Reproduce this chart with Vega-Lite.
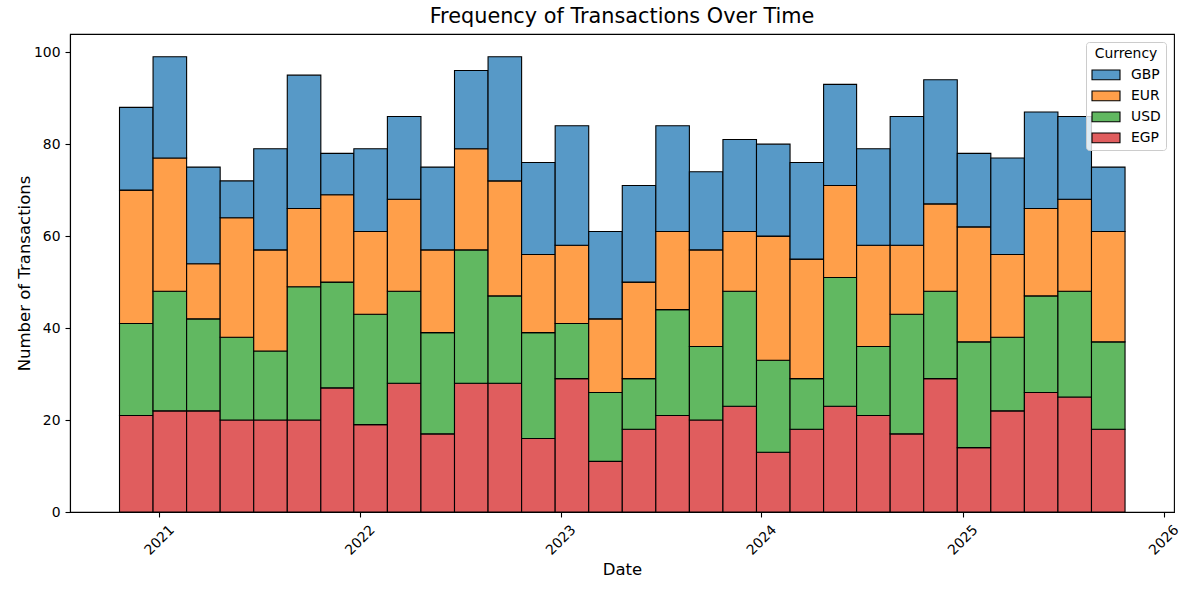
{
  "$schema": "https://vega.github.io/schema/vega-lite/v6.json",
  "width": 1104,
  "height": 478,
  "autosize": {"type": "none"},
  "padding": {"left": 70, "top": 34, "right": 14, "bottom": 78},
  "background": "white",
  "title": {"text": "Frequency of Transactions Over Time", "font": "DejaVu Sans", "fontSize": 20.8, "fontWeight": "normal", "color": "black", "anchor": "middle", "baseline": "alphabetic", "offset": 12, "dy": 22, "frame": "group"},
  "config": {
    "view": {"stroke": "black", "strokeWidth": 1.1},
    "axis": {"labelFont": "DejaVu Sans", "labelFontSize": 13.9, "labelColor": "black", "titleFont": "DejaVu Sans", "titleFontSize": 16.5, "titleFontWeight": "normal", "titleColor": "black", "domainColor": "black", "domainWidth": 1.1, "tickColor": "black", "tickWidth": 1.1, "tickSize": 5, "labelPadding": 5, "grid": false}
  },
  "data": {"values": [
    {"start":"2020-10-21","end":"2020-12-21","currency":"EGP","count":21},
    {"start":"2020-10-21","end":"2020-12-21","currency":"USD","count":20},
    {"start":"2020-10-21","end":"2020-12-21","currency":"EUR","count":29},
    {"start":"2020-10-21","end":"2020-12-21","currency":"GBP","count":18},
    {"start":"2020-12-21","end":"2021-02-20","currency":"EGP","count":22},
    {"start":"2020-12-21","end":"2021-02-20","currency":"USD","count":26},
    {"start":"2020-12-21","end":"2021-02-20","currency":"EUR","count":29},
    {"start":"2020-12-21","end":"2021-02-20","currency":"GBP","count":22},
    {"start":"2021-02-20","end":"2021-04-22","currency":"EGP","count":22},
    {"start":"2021-02-20","end":"2021-04-22","currency":"USD","count":20},
    {"start":"2021-02-20","end":"2021-04-22","currency":"EUR","count":12},
    {"start":"2021-02-20","end":"2021-04-22","currency":"GBP","count":21},
    {"start":"2021-04-22","end":"2021-06-22","currency":"EGP","count":20},
    {"start":"2021-04-22","end":"2021-06-22","currency":"USD","count":18},
    {"start":"2021-04-22","end":"2021-06-22","currency":"EUR","count":26},
    {"start":"2021-04-22","end":"2021-06-22","currency":"GBP","count":8},
    {"start":"2021-06-22","end":"2021-08-22","currency":"EGP","count":20},
    {"start":"2021-06-22","end":"2021-08-22","currency":"USD","count":15},
    {"start":"2021-06-22","end":"2021-08-22","currency":"EUR","count":22},
    {"start":"2021-06-22","end":"2021-08-22","currency":"GBP","count":22},
    {"start":"2021-08-22","end":"2021-10-22","currency":"EGP","count":20},
    {"start":"2021-08-22","end":"2021-10-22","currency":"USD","count":29},
    {"start":"2021-08-22","end":"2021-10-22","currency":"EUR","count":17},
    {"start":"2021-08-22","end":"2021-10-22","currency":"GBP","count":29},
    {"start":"2021-10-22","end":"2021-12-21","currency":"EGP","count":27},
    {"start":"2021-10-22","end":"2021-12-21","currency":"USD","count":23},
    {"start":"2021-10-22","end":"2021-12-21","currency":"EUR","count":19},
    {"start":"2021-10-22","end":"2021-12-21","currency":"GBP","count":9},
    {"start":"2021-12-21","end":"2022-02-20","currency":"EGP","count":19},
    {"start":"2021-12-21","end":"2022-02-20","currency":"USD","count":24},
    {"start":"2021-12-21","end":"2022-02-20","currency":"EUR","count":18},
    {"start":"2021-12-21","end":"2022-02-20","currency":"GBP","count":18},
    {"start":"2022-02-20","end":"2022-04-22","currency":"EGP","count":28},
    {"start":"2022-02-20","end":"2022-04-22","currency":"USD","count":20},
    {"start":"2022-02-20","end":"2022-04-22","currency":"EUR","count":20},
    {"start":"2022-02-20","end":"2022-04-22","currency":"GBP","count":18},
    {"start":"2022-04-22","end":"2022-06-22","currency":"EGP","count":17},
    {"start":"2022-04-22","end":"2022-06-22","currency":"USD","count":22},
    {"start":"2022-04-22","end":"2022-06-22","currency":"EUR","count":18},
    {"start":"2022-04-22","end":"2022-06-22","currency":"GBP","count":18},
    {"start":"2022-06-22","end":"2022-08-22","currency":"EGP","count":28},
    {"start":"2022-06-22","end":"2022-08-22","currency":"USD","count":29},
    {"start":"2022-06-22","end":"2022-08-22","currency":"EUR","count":22},
    {"start":"2022-06-22","end":"2022-08-22","currency":"GBP","count":17},
    {"start":"2022-08-22","end":"2022-10-22","currency":"EGP","count":28},
    {"start":"2022-08-22","end":"2022-10-22","currency":"USD","count":19},
    {"start":"2022-08-22","end":"2022-10-22","currency":"EUR","count":25},
    {"start":"2022-08-22","end":"2022-10-22","currency":"GBP","count":27},
    {"start":"2022-10-22","end":"2022-12-22","currency":"EGP","count":16},
    {"start":"2022-10-22","end":"2022-12-22","currency":"USD","count":23},
    {"start":"2022-10-22","end":"2022-12-22","currency":"EUR","count":17},
    {"start":"2022-10-22","end":"2022-12-22","currency":"GBP","count":20},
    {"start":"2022-12-22","end":"2023-02-21","currency":"EGP","count":29},
    {"start":"2022-12-22","end":"2023-02-21","currency":"USD","count":12},
    {"start":"2022-12-22","end":"2023-02-21","currency":"EUR","count":17},
    {"start":"2022-12-22","end":"2023-02-21","currency":"GBP","count":26},
    {"start":"2023-02-21","end":"2023-04-23","currency":"EGP","count":11},
    {"start":"2023-02-21","end":"2023-04-23","currency":"USD","count":15},
    {"start":"2023-02-21","end":"2023-04-23","currency":"EUR","count":16},
    {"start":"2023-02-21","end":"2023-04-23","currency":"GBP","count":19},
    {"start":"2023-04-23","end":"2023-06-23","currency":"EGP","count":18},
    {"start":"2023-04-23","end":"2023-06-23","currency":"USD","count":11},
    {"start":"2023-04-23","end":"2023-06-23","currency":"EUR","count":21},
    {"start":"2023-04-23","end":"2023-06-23","currency":"GBP","count":21},
    {"start":"2023-06-23","end":"2023-08-23","currency":"EGP","count":21},
    {"start":"2023-06-23","end":"2023-08-23","currency":"USD","count":23},
    {"start":"2023-06-23","end":"2023-08-23","currency":"EUR","count":17},
    {"start":"2023-06-23","end":"2023-08-23","currency":"GBP","count":23},
    {"start":"2023-08-23","end":"2023-10-23","currency":"EGP","count":20},
    {"start":"2023-08-23","end":"2023-10-23","currency":"USD","count":16},
    {"start":"2023-08-23","end":"2023-10-23","currency":"EUR","count":21},
    {"start":"2023-08-23","end":"2023-10-23","currency":"GBP","count":17},
    {"start":"2023-10-23","end":"2023-12-23","currency":"EGP","count":23},
    {"start":"2023-10-23","end":"2023-12-23","currency":"USD","count":25},
    {"start":"2023-10-23","end":"2023-12-23","currency":"EUR","count":13},
    {"start":"2023-10-23","end":"2023-12-23","currency":"GBP","count":20},
    {"start":"2023-12-23","end":"2024-02-22","currency":"EGP","count":13},
    {"start":"2023-12-23","end":"2024-02-22","currency":"USD","count":20},
    {"start":"2023-12-23","end":"2024-02-22","currency":"EUR","count":27},
    {"start":"2023-12-23","end":"2024-02-22","currency":"GBP","count":20},
    {"start":"2024-02-22","end":"2024-04-23","currency":"EGP","count":18},
    {"start":"2024-02-22","end":"2024-04-23","currency":"USD","count":11},
    {"start":"2024-02-22","end":"2024-04-23","currency":"EUR","count":26},
    {"start":"2024-02-22","end":"2024-04-23","currency":"GBP","count":21},
    {"start":"2024-04-23","end":"2024-06-22","currency":"EGP","count":23},
    {"start":"2024-04-23","end":"2024-06-22","currency":"USD","count":28},
    {"start":"2024-04-23","end":"2024-06-22","currency":"EUR","count":20},
    {"start":"2024-04-23","end":"2024-06-22","currency":"GBP","count":22},
    {"start":"2024-06-22","end":"2024-08-22","currency":"EGP","count":21},
    {"start":"2024-06-22","end":"2024-08-22","currency":"USD","count":15},
    {"start":"2024-06-22","end":"2024-08-22","currency":"EUR","count":22},
    {"start":"2024-06-22","end":"2024-08-22","currency":"GBP","count":21},
    {"start":"2024-08-22","end":"2024-10-22","currency":"EGP","count":17},
    {"start":"2024-08-22","end":"2024-10-22","currency":"USD","count":26},
    {"start":"2024-08-22","end":"2024-10-22","currency":"EUR","count":15},
    {"start":"2024-08-22","end":"2024-10-22","currency":"GBP","count":28},
    {"start":"2024-10-22","end":"2024-12-22","currency":"EGP","count":29},
    {"start":"2024-10-22","end":"2024-12-22","currency":"USD","count":19},
    {"start":"2024-10-22","end":"2024-12-22","currency":"EUR","count":19},
    {"start":"2024-10-22","end":"2024-12-22","currency":"GBP","count":27},
    {"start":"2024-12-22","end":"2025-02-21","currency":"EGP","count":14},
    {"start":"2024-12-22","end":"2025-02-21","currency":"USD","count":23},
    {"start":"2024-12-22","end":"2025-02-21","currency":"EUR","count":25},
    {"start":"2024-12-22","end":"2025-02-21","currency":"GBP","count":16},
    {"start":"2025-02-21","end":"2025-04-23","currency":"EGP","count":22},
    {"start":"2025-02-21","end":"2025-04-23","currency":"USD","count":16},
    {"start":"2025-02-21","end":"2025-04-23","currency":"EUR","count":18},
    {"start":"2025-02-21","end":"2025-04-23","currency":"GBP","count":21},
    {"start":"2025-04-23","end":"2025-06-23","currency":"EGP","count":26},
    {"start":"2025-04-23","end":"2025-06-23","currency":"USD","count":21},
    {"start":"2025-04-23","end":"2025-06-23","currency":"EUR","count":19},
    {"start":"2025-04-23","end":"2025-06-23","currency":"GBP","count":21},
    {"start":"2025-06-23","end":"2025-08-23","currency":"EGP","count":25},
    {"start":"2025-06-23","end":"2025-08-23","currency":"USD","count":23},
    {"start":"2025-06-23","end":"2025-08-23","currency":"EUR","count":20},
    {"start":"2025-06-23","end":"2025-08-23","currency":"GBP","count":18},
    {"start":"2025-08-23","end":"2025-10-23","currency":"EGP","count":18},
    {"start":"2025-08-23","end":"2025-10-23","currency":"USD","count":19},
    {"start":"2025-08-23","end":"2025-10-23","currency":"EUR","count":24},
    {"start":"2025-08-23","end":"2025-10-23","currency":"GBP","count":14}
  ]},
  "transform": [
    {"calculate": "indexof(['EGP','USD','EUR','GBP'], datum.currency)", "as": "stackOrder"},
    {"stack": "count", "groupby": ["start"], "sort": [{"field": "stackOrder", "order": "ascending"}], "as": ["y0", "y1"]}
  ],
  "mark": {"type": "bar", "stroke": "black", "strokeWidth": 1.1, "fillOpacity": 1},
  "encoding": {
    "x": {
      "field": "start", "type": "temporal", "title": "Date",
      "scale": {"type": "utc", "nice": false, "domain": [{"year": 2020, "month": 7, "date": 23, "utc": true}, {"year": 2026, "month": 1, "date": 20, "utc": true}]},
      "axis": {
        "values": [{"year": 2021, "utc": true}, {"year": 2022, "utc": true}, {"year": 2023, "utc": true}, {"year": 2024, "utc": true}, {"year": 2025, "utc": true}, {"year": 2026, "utc": true}],
        "format": "%Y", "labelAngle": -45, "labelAlign": "center", "labelBaseline": "middle", "labelPadding": 23, "titlePadding": 4, "labelOverlap": false
      }
    },
    "x2": {"field": "end"},
    "y": {
      "field": "y1", "type": "quantitative", "title": "Number of Transactions",
      "scale": {"domain": [0, 103.95], "nice": false, "zero": true},
      "axis": {"values": [0, 20, 40, 60, 80, 100], "titlePadding": 1}
    },
    "y2": {"field": "y0"},
    "color": {
      "field": "currency", "type": "nominal", "title": "Currency",
      "scale": {"domain": ["GBP", "EUR", "USD", "EGP"], "range": ["#5799c7", "#ff9f4a", "#61b861", "#e05d5e"]},
      "legend": {
        "orient": "none", "legendX": 1016, "legendY": 8,
        "symbolType": "M-1,-0.7H3V0.7H-1Z", "symbolSize": 196, "symbolStrokeColor": "black", "symbolStrokeWidth": 1.1, "symbolOpacity": 1,
        "labelFont": "DejaVu Sans", "labelFontSize": 13.9, "labelColor": "black", "labelOffset": 24,
        "titleFont": "DejaVu Sans", "titleFontSize": 13.9, "titleFontWeight": "normal", "titleColor": "black", "titleAnchor": "middle", "titlePadding": 6,
        "rowPadding": 5, "padding": 5, "strokeColor": "#cccccc", "fillColor": "rgba(255,255,255,0.8)", "cornerRadius": 3
      }
    }
  }
}
